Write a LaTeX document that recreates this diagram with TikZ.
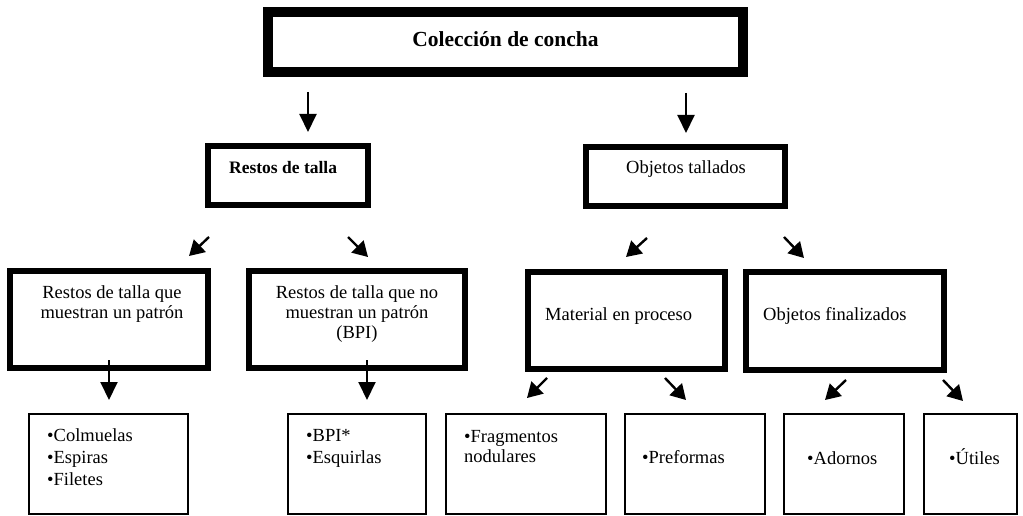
\documentclass[tikz,border=0pt]{standalone}
\usepackage{fontspec}
\setmainfont{Liberation Serif}
\usetikzlibrary{arrows.meta}

\begin{document}
\begin{tikzpicture}[x=1pt,y=-1pt,
    box/.style={draw, inner sep=0pt, outer sep=0pt},
    big/.style={box, line width=10pt, minimum width=475pt, minimum height=60pt},
    mid/.style={box, line width=6.5pt, minimum height=59pt},
    sub/.style={box, line width=6pt, minimum height=97pt},
    leaf/.style={box, line width=1.6pt, minimum height=100pt},
    txt/.style={inner sep=0pt, font=\fontsize{18.5}{20}\selectfont},
    lst/.style={txt, align=left, anchor=west, font=\fontsize{18.5}{22}\selectfont},
    down/.style={-{Triangle[length=18pt,width=17pt]}, line width=2pt},
    diag/.style={-{Triangle[length=15pt,width=17pt]}, line width=2.4pt}]
  \useasboundingbox (0,0) rectangle (1023,516);

  % boxes
  \node[big] (col) at (505.5,42) {};
  \node[mid, minimum width=160pt] (rt) at (288,175.5) {};
  \node[mid, minimum width=199pt] (ot) at (685.5,176.5) {};
  \node[sub, minimum width=198pt] (rtp) at (109,319.5) {};
  \node[sub, minimum width=216pt] (rtn) at (357,319.5) {};
  \node[sub, minimum width=197pt] (mp) at (626.5,320.5) {};
  \node[sub, minimum width=198pt, minimum height=98pt] (of) at (845,321) {};
  \node[leaf, minimum width=159pt] (lcol) at (108.5,464) {};
  \node[leaf, minimum width=138pt] (lbpi) at (357,464) {};
  \node[leaf, minimum width=160pt] (lfra) at (526,464) {};
  \node[leaf, minimum width=140pt] (lpre) at (695,464) {};
  \node[leaf, minimum width=120pt] (lado) at (844,464) {};
  \node[leaf, minimum width=93pt] (luti) at (970.5,464) {};

  % texts
  \node[txt, font=\fontsize{21.5}{24}\selectfont\bfseries, anchor=base] (colT) at (505.5,47) {Colección de concha};
  \node[txt, font=\fontsize{17.5}{20}\selectfont\bfseries, anchor=base west] (rtT) at (229,174) {Restos de talla};
  \node[txt, anchor=base west] (otT) at (626,174) {Objetos tallados};
  \node[txt, align=center] (rtpT) at (112,304) {Restos de talla que\\muestran un patrón};
  \node[txt, align=center] (rtnT) at (357,314) {Restos de talla que no\\muestran un patrón\\(BPI)};
  \node[txt, anchor=base west] (mpT) at (545,320) {Material en proceso};
  \node[txt, anchor=base west] (ofT) at (763,320) {Objetos finalizados};
  \node[lst] (lcolT) at (47,457.5) {•Colmuelas\\•Espiras\\•Filetes};
  \node[lst] (lbpiT) at (306,448.5) {•BPI*\\•Esquirlas};
  \node[lst, font=\fontsize{18.5}{20}\selectfont] (lfraT) at (464,446.5) {•Fragmentos\\nodulares};
  \node[txt, anchor=base west] (lpreT) at (642,463) {•Preformas};
  \node[txt, anchor=base west] (ladoT) at (807,464) {•Adornos};
  \node[txt, anchor=base west] (lutiT) at (949,464) {•Útiles};

  % arrow ends
  \coordinate (colA) at (308,92);   \coordinate (rtA) at (308,132);
  \coordinate (colB) at (686,93);   \coordinate (otA) at (686,133);
  \coordinate (rtL) at (209,237);   \coordinate (rtpA) at (189,256);
  \coordinate (rtR) at (348,237);   \coordinate (rtnA) at (368,257);
  \coordinate (otL) at (647,238);   \coordinate (mpA) at (626,257);
  \coordinate (otR) at (784,237);   \coordinate (ofA) at (804,258);
  \coordinate (rtpD) at (109,360);  \coordinate (lcolA) at (109,400);
  \coordinate (rtnD) at (367,360);  \coordinate (lbpiA) at (367,400);
  \coordinate (mpL) at (547,378);   \coordinate (lfraA) at (527,398);
  \coordinate (mpR) at (665,378);   \coordinate (lpreA) at (686,400);
  \coordinate (ofL) at (846,380);   \coordinate (ladoA) at (825,400);
  \coordinate (ofR) at (943,380);   \coordinate (lutiA) at (963,401);

  % vertical arrows
  \draw[down] (colA) -- (rtA);
  \draw[down] (colB) -- (otA);
  \draw[down] (rtpD) -- (lcolA);
  \draw[down] (rtnD) -- (lbpiA);
  % slanted arrows
  \draw[diag] (rtL) -- (rtpA);
  \draw[diag] (rtR) -- (rtnA);
  \draw[diag] (otL) -- (mpA);
  \draw[diag] (otR) -- (ofA);
  \draw[diag] (mpL) -- (lfraA);
  \draw[diag] (mpR) -- (lpreA);
  \draw[diag] (ofL) -- (ladoA);
  \draw[diag] (ofR) -- (lutiA);
\end{tikzpicture}
\end{document}
